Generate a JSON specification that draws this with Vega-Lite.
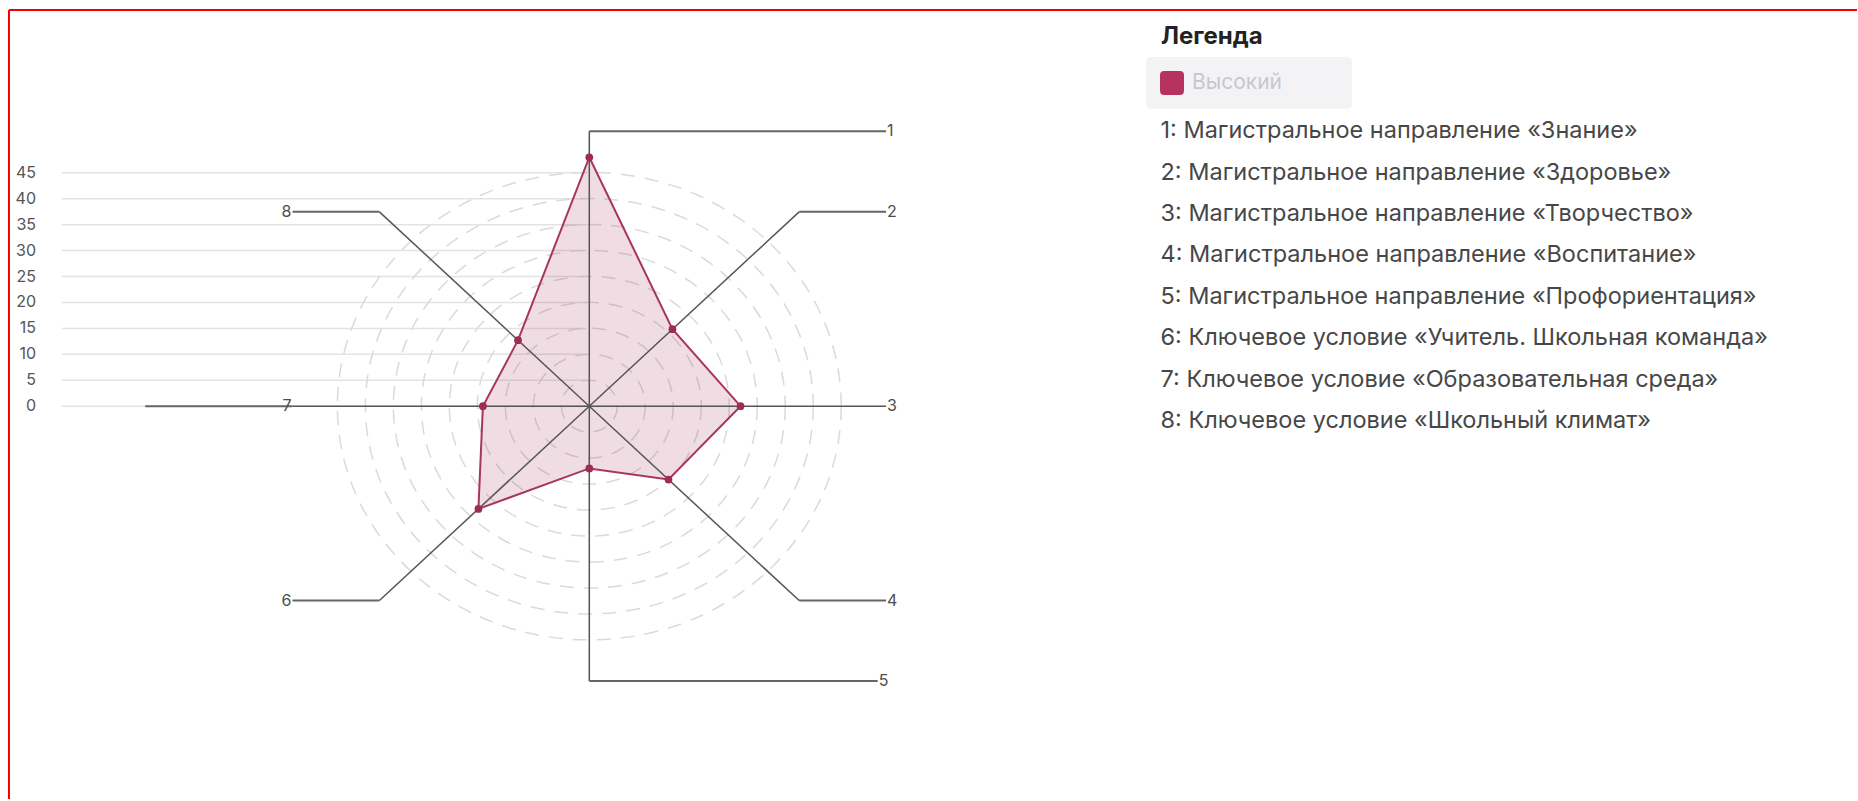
{
  "$schema": "https://vega.github.io/schema/vega-lite/v6.json",
  "width": 1858,
  "height": 801,
  "autosize": {"type": "fit", "contains": "padding"},
  "padding": 0,
  "background": "#ffffff",
  "config": {"view": {"stroke": null}, "font": "Inter", "axis": {"disable": true}},
  "datasets": {
    "radar": [
      {"axis": 1, "name": "1: Магистральное направление «Знание»", "value": 48, "level": "Высокий"},
      {"axis": 2, "name": "2: Магистральное направление «Здоровье»", "value": 21, "level": "Высокий"},
      {"axis": 3, "name": "3: Магистральное направление «Творчество»", "value": 27, "level": "Высокий"},
      {"axis": 4, "name": "4: Магистральное направление «Воспитание»", "value": 20, "level": "Высокий"},
      {"axis": 5, "name": "5: Магистральное направление «Профориентация»", "value": 12, "level": "Высокий"},
      {"axis": 6, "name": "6: Ключевое условие «Учитель. Школьная команда»", "value": 28, "level": "Высокий"},
      {"axis": 7, "name": "7: Ключевое условие «Образовательная среда»", "value": 19, "level": "Высокий"},
      {"axis": 8, "name": "8: Ключевое условие «Школьный климат»", "value": 18, "level": "Высокий"}
    ],
    "rings": [{"r": 5}, {"r": 10}, {"r": 15}, {"r": 20}, {"r": 25}, {"r": 30}, {"r": 35}, {"r": 40}, {"r": 45}],
    "grid": [{"v": 0}, {"v": 5}, {"v": 10}, {"v": 15}, {"v": 20}, {"v": 25}, {"v": 30}, {"v": 35}, {"v": 40}, {"v": 45}],
    "leaders": [{"axis": 1}, {"axis": 2}, {"axis": 3}, {"axis": 4}, {"axis": 5}, {"axis": 6}, {"axis": 7}, {"axis": 8}],
    "frame": [{"edge": "frame"}]
  },
  "layer": [
    {
      "data": {"name": "grid"},
      "mark": {"type": "rule", "stroke": "#e3e3e3", "strokeWidth": 1.5},
      "encoding": {
        "x": {"datum": -94.2, "type": "quantitative", "scale": {"domain": [-105.23, 226.55], "nice": false, "zero": false}},
        "x2": {"datum": -0.5},
        "y": {"field": "v", "type": "quantitative", "scale": {"domain": [-75.93, 78.32], "nice": false, "zero": false}}
      }
    },
    {
      "data": {"name": "grid"},
      "mark": {"type": "text", "align": "right", "baseline": "middle", "fontSize": 16, "color": "#555555"},
      "encoding": {
        "x": {"datum": -98.8, "type": "quantitative", "scale": {"domain": [-105.23, 226.55], "nice": false, "zero": false}},
        "y": {"field": "v", "type": "quantitative", "scale": {"domain": [-75.93, 78.32], "nice": false, "zero": false}},
        "text": {"field": "v", "type": "quantitative"}
      }
    },
    {
      "data": {"name": "rings"},
      "mark": {"type": "point", "shape": "M 1.078 0 C 1.078 0.5523 0.5954 1 0 1 C -0.5954 1 -1.078 0.5523 -1.078 0 C -1.078 -0.5523 -0.5954 -1 0 -1 C 0.5954 -1 1.078 -0.5523 1.078 0 Z", "filled": false, "stroke": "#dadada", "strokeWidth": 1.5, "strokeDash": [14, 10], "opacity": 1},
      "encoding": {
        "x": {"datum": 0, "type": "quantitative", "scale": {"domain": [-105.23, 226.55], "nice": false, "zero": false}},
        "y": {"datum": 0, "type": "quantitative", "scale": {"domain": [-75.93, 78.32], "nice": false, "zero": false}},
        "size": {"field": "r", "type": "quantitative", "scale": {"type": "pow", "exponent": 2, "domain": [0, 45], "range": [0, 218437]}, "legend": null}
      }
    },
    {
      "data": {"name": "radar"},
      "transform": [
        {"calculate": "datum.value * sin((datum.axis - 1) * PI / 4)", "as": "px"},
        {"calculate": "datum.value * cos((datum.axis - 1) * PI / 4)", "as": "py"}
      ],
      "mark": {"type": "line", "interpolate": "linear-closed", "stroke": "#a8355f", "strokeWidth": 2, "fill": "#a8355f", "fillOpacity": 0.17},
      "encoding": {
        "x": {"field": "px", "type": "quantitative", "scale": {"domain": [-105.23, 226.55], "nice": false, "zero": false}},
        "y": {"field": "py", "type": "quantitative", "scale": {"domain": [-75.93, 78.32], "nice": false, "zero": false}},
        "order": {"field": "axis", "type": "quantitative"}
      }
    },
    {
      "data": {"name": "leaders"},
      "transform": [
        {"calculate": "53 * sin((datum.axis - 1) * PI / 4)", "as": "cx"},
        {"calculate": "53 * cos((datum.axis - 1) * PI / 4)", "as": "cy"}
      ],
      "mark": {"type": "rule", "stroke": "#555555", "strokeWidth": 1.5},
      "encoding": {
        "x": {"field": "cx", "type": "quantitative", "scale": {"domain": [-105.23, 226.55], "nice": false, "zero": false}},
        "y": {"field": "cy", "type": "quantitative", "scale": {"domain": [-75.93, 78.32], "nice": false, "zero": false}},
        "x2": {"datum": 0},
        "y2": {"datum": 0}
      }
    },
    {
      "data": {"name": "leaders"},
      "transform": [
        {"calculate": "53 * sin((datum.axis - 1) * PI / 4)", "as": "cx"},
        {"calculate": "53 * cos((datum.axis - 1) * PI / 4)", "as": "cy"},
        {"calculate": "datum.axis == 7 ? -79.3 : (datum.axis == 5 ? 51.5 : (datum.cx > -1 ? 53 : -53))", "as": "hx"}
      ],
      "mark": {"type": "rule", "stroke": "#666666", "strokeWidth": 2},
      "encoding": {
        "x": {"field": "cx", "type": "quantitative", "scale": {"domain": [-105.23, 226.55], "nice": false, "zero": false}},
        "x2": {"field": "hx"},
        "y": {"field": "cy", "type": "quantitative", "scale": {"domain": [-75.93, 78.32], "nice": false, "zero": false}}
      }
    },
    {
      "data": {"name": "leaders"},
      "transform": [
        {"calculate": "53 * sin((datum.axis - 1) * PI / 4)", "as": "cx"},
        {"calculate": "53 * cos((datum.axis - 1) * PI / 4)", "as": "cy"},
        {"filter": "datum.cx > -1"},
        {"calculate": "datum.axis == 5 ? 51.5 : 53", "as": "lx"}
      ],
      "mark": {"type": "text", "align": "left", "baseline": "middle", "dx": 1, "fontSize": 16, "color": "#4d4d4d"},
      "encoding": {
        "x": {"field": "lx", "type": "quantitative", "scale": {"domain": [-105.23, 226.55], "nice": false, "zero": false}},
        "y": {"field": "cy", "type": "quantitative", "scale": {"domain": [-75.93, 78.32], "nice": false, "zero": false}},
        "text": {"field": "axis", "type": "nominal"}
      }
    },
    {
      "data": {"name": "leaders"},
      "transform": [
        {"calculate": "53 * sin((datum.axis - 1) * PI / 4)", "as": "cx"},
        {"calculate": "53 * cos((datum.axis - 1) * PI / 4)", "as": "cy"},
        {"filter": "datum.cx < -1"}
      ],
      "mark": {"type": "text", "align": "right", "baseline": "middle", "dx": -1, "fontSize": 16, "color": "#4d4d4d"},
      "encoding": {
        "x": {"datum": -53, "type": "quantitative", "scale": {"domain": [-105.23, 226.55], "nice": false, "zero": false}},
        "y": {"field": "cy", "type": "quantitative", "scale": {"domain": [-75.93, 78.32], "nice": false, "zero": false}},
        "text": {"field": "axis", "type": "nominal"}
      }
    },
    {
      "data": {"name": "radar"},
      "transform": [
        {"calculate": "datum.value * sin((datum.axis - 1) * PI / 4)", "as": "px"},
        {"calculate": "datum.value * cos((datum.axis - 1) * PI / 4)", "as": "py"}
      ],
      "mark": {"type": "point", "filled": true, "size": 60, "opacity": 1, "fill": "#9d2c56"},
      "encoding": {
        "x": {"field": "px", "type": "quantitative", "scale": {"domain": [-105.23, 226.55], "nice": false, "zero": false}},
        "y": {"field": "py", "type": "quantitative", "scale": {"domain": [-75.93, 78.32], "nice": false, "zero": false}}
      }
    },
    {
      "data": {"name": "frame"},
      "mark": {"type": "rect", "fill": "#f3f3f5", "cornerRadius": 5},
      "encoding": {
        "x": {"datum": 99.41, "type": "quantitative", "scale": {"domain": [-105.23, 226.55], "nice": false, "zero": false}},
        "x2": {"datum": 136.2},
        "y": {"datum": 67.34, "type": "quantitative", "scale": {"domain": [-75.93, 78.32], "nice": false, "zero": false}},
        "y2": {"datum": 57.33}
      }
    },
    {
      "data": {"name": "radar"},
      "transform": [
        {"calculate": "datum.value * sin((datum.axis - 1) * PI / 4)", "as": "px"},
        {"calculate": "datum.value * cos((datum.axis - 1) * PI / 4)", "as": "py"}
      ],
      "mark": {"type": "point", "filled": true, "size": 60, "opacity": 0},
      "encoding": {
        "x": {"field": "px", "type": "quantitative", "scale": {"domain": [-105.23, 226.55], "nice": false, "zero": false}},
        "y": {"field": "py", "type": "quantitative", "scale": {"domain": [-75.93, 78.32], "nice": false, "zero": false}},
        "color": {
          "field": "level", "type": "nominal",
          "scale": {"range": ["#b5335e"]},
          "legend": {
            "title": null, "orient": "none", "legendX": 1146, "legendY": 57,
            "padding": 14,
            "symbolType": "M -0.65 -1 L 0.65 -1 Q 1 -1 1 -0.65 L 1 0.65 Q 1 1 0.65 1 L -0.65 1 Q -1 1 -1 0.65 L -1 -0.65 Q -1 -1 -0.65 -1 Z",
            "symbolSize": 576, "symbolStrokeWidth": 0, "symbolOpacity": 1,
            "labelFont": "Inter", "labelFontSize": 21, "labelColor": "#c5c8cf", "labelOffset": 8, "labelLimit": 400
          }
        },
        "shape": {
          "field": "name", "type": "nominal",
          "scale": {
            "domain": [
              "1: Магистральное направление «Знание»",
              "2: Магистральное направление «Здоровье»",
              "3: Магистральное направление «Творчество»",
              "4: Магистральное направление «Воспитание»",
              "5: Магистральное направление «Профориентация»",
              "6: Ключевое условие «Учитель. Школьная команда»",
              "7: Ключевое условие «Образовательная среда»",
              "8: Ключевое условие «Школьный климат»"
            ],
            "range": ["circle"]
          },
          "legend": {
            "title": "Легенда", "orient": "none", "legendX": 1161, "legendY": 25,
            "titleFont": "Inter", "titleFontSize": 24, "titleFontWeight": 700, "titleColor": "#222222", "titlePadding": 70.5, "titleLimit": 500,
            "symbolSize": 1, "symbolOpacity": 0, "symbolStrokeWidth": 0,
            "labelOffset": -24, "labelFont": "Inter", "labelFontSize": 23.5, "labelColor": "#474747", "labelLimit": 900,
            "rowPadding": 16.4
          }
        }
      }
    },
    {
      "data": {"name": "frame"},
      "mark": {"type": "rule", "stroke": "#f00000", "strokeWidth": 2},
      "encoding": {
        "x": {"datum": -103.63, "type": "quantitative", "scale": {"domain": [-105.23, 226.55], "nice": false, "zero": false}},
        "y": {"datum": -75.74, "type": "quantitative", "scale": {"domain": [-75.93, 78.32], "nice": false, "zero": false}},
        "y2": {"datum": 76.39}
      }
    },
    {
      "data": {"name": "frame"},
      "mark": {"type": "rule", "stroke": "#f00000", "strokeWidth": 2},
      "encoding": {
        "x": {"datum": -103.63, "type": "quantitative", "scale": {"domain": [-105.23, 226.55], "nice": false, "zero": false}},
        "x2": {"datum": 226.37},
        "y": {"datum": 76.39, "type": "quantitative", "scale": {"domain": [-75.93, 78.32], "nice": false, "zero": false}}
      }
    }
  ]
}
